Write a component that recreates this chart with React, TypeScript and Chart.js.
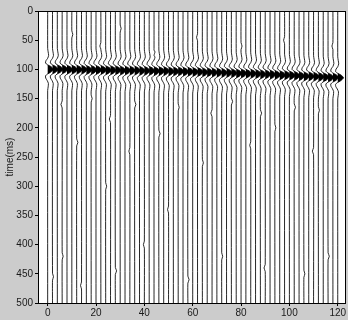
import React, { useEffect, useRef } from "react";
import { Chart, registerables } from "chart.js";

Chart.register(...registerables);

// Trace positions (x axis units)
const TRACE_OFFSETS = [
  0, 2, 4, 6, 8, 10, 12, 14, 16, 18, 20, 22, 24, 26, 28, 30, 32, 34, 36, 38,
  40, 42, 44, 46, 48, 50, 52, 54, 56, 58, 60, 62, 64, 66, 68, 70, 72, 74, 76, 78,
  80, 82, 84, 86, 88, 90, 92, 94, 96, 98, 100, 102, 104, 106, 108, 110, 112, 114, 116, 118,
  120,
];

// Arrival time (ms) of the main event on each trace
const ARRIVAL_MS = [
  100, 100, 100, 100, 100.5, 100.5, 100.5, 100.5, 101, 101,
  101, 101, 101.5, 101.5, 101.5, 102, 102, 102, 102, 102.5,
  102.5, 102.5, 103, 103, 103, 103.5, 103.5, 103.5, 104, 104,
  104.5, 104.5, 105, 105, 105.5, 105.5, 106, 106, 106.5, 107,
  107, 107.5, 107.5, 108, 108.5, 108.5, 109, 109.5, 110, 110,
  110.5, 111, 111.5, 112, 112, 112.5, 113, 113.5, 114, 114,
  114.5,
];

// Wavelet shape: relative time (ms) and deflection (x units)
const WAVELET_T = [-36, -30, -24, -19, -15, -11, -8, -5, -2.5, 0, 2.5, 5, 8, 11, 15, 19, 24, 30, 36];
const WAVELET_A = [0, 0.2, 0.4, 0, -0.7, -0.9, -0.1, 1.3, 2.0, 2.4, 1.9, 1.2, -0.1, -0.9, -0.8, -0.2, 0.3, 0.2, 0];

// Small background wiggles: [trace offset, time ms, deflection]
const KINKS: [number, number, number][] = [
  [2, 455, 0.4], [6, 160, -0.5], [6, 420, 0.4], [10, 40, 0.4], [12, 225, 0.5],
  [14, 470, -0.4], [18, 150, 0.4], [22, 60, -0.4], [24, 300, 0.4], [26, 185, -0.5],
  [28, 445, 0.5], [30, 30, 0.4], [34, 240, -0.4], [36, 160, 0.5], [40, 400, -0.4],
  [44, 70, 0.4], [46, 210, 0.5], [50, 340, -0.4], [54, 165, 0.4], [58, 460, 0.5],
  [62, 45, -0.4], [64, 260, 0.4], [68, 175, -0.5], [72, 420, 0.4], [76, 155, 0.5],
  [80, 60, 0.4], [84, 230, -0.4], [88, 175, 0.5], [90, 440, -0.5], [94, 200, 0.4],
  [98, 50, -0.4], [102, 165, 0.5], [106, 450, 0.4], [110, 240, -0.5], [112, 170, 0.4],
  [116, 420, 0.5], [118, 60, -0.4],
];

const X_TICKS = [0, 20, 40, 60, 80, 100, 120];
const Y_TICKS = [0, 50, 100, 150, 200, 250, 300, 350, 400, 450, 500];
const T_MAX = 500;

function lobeBounds() {
  let peak = 0;
  WAVELET_A.forEach((a, i) => { if (a > WAVELET_A[peak]) peak = i; });
  let l = peak;
  while (l > 0 && WAVELET_A[l - 1] > 0) l--;
  let r = peak;
  while (r < WAVELET_A.length - 1 && WAVELET_A[r + 1] > 0) r++;
  const cross = (i0: number, i1: number) => {
    const a0 = WAVELET_A[i0], a1 = WAVELET_A[i1];
    return WAVELET_T[i0] + (WAVELET_T[i1] - WAVELET_T[i0]) * (a0 / (a0 - a1));
  };
  return { l, r, tl: cross(l - 1, l), tr: cross(r, r + 1) };
}

export default function App() {
  const ref = useRef<HTMLCanvasElement | null>(null);

  useEffect(() => {
    if (!ref.current) return;
    const lb = lobeBounds();
    const datasets: any[] = [];

    TRACE_OFFSETS.forEach((off, i) => {
      const t0 = ARRIVAL_MS[i];
      const pts: { x: number; y: number }[] = [];
      pts.push({ x: off, y: 0 });
      WAVELET_T.forEach((rt, k) => pts.push({ x: off + WAVELET_A[k], y: t0 + rt }));
      KINKS.filter((k) => k[0] === off).forEach(([, t, d]) => {
        pts.push({ x: off, y: t - 6 });
        pts.push({ x: off + d, y: t });
        pts.push({ x: off, y: t + 6 });
      });
      pts.push({ x: off, y: T_MAX });
      pts.sort((a, b) => a.y - b.y);

      const fillPts: { x: number; y: number }[] = [];
      fillPts.push({ x: off, y: t0 + lb.tl });
      for (let k = lb.l; k <= lb.r; k++) fillPts.push({ x: off + WAVELET_A[k], y: t0 + WAVELET_T[k] });
      fillPts.push({ x: off, y: t0 + lb.tr });

      datasets.push({
        data: fillPts,
        showLine: true,
        fill: "shape",
        backgroundColor: "#000",
        borderColor: "#000",
        borderWidth: 0,
        pointRadius: 0,
        tension: 0,
      });
      datasets.push({
        data: pts,
        showLine: true,
        fill: false,
        borderColor: "#000",
        borderWidth: 0.85,
        pointRadius: 0,
        tension: 0.2,
      });
    });

    const font = { family: "'Liberation Sans', Arial, sans-serif", size: 10 };
    const chart = new Chart(ref.current, {
      type: "scatter",
      data: { datasets },
      options: {
        animation: false,
        responsive: false,
        events: [],
        layout: { padding: { top: 11, right: 3, left: 0, bottom: 0 } },
        plugins: { legend: { display: false }, tooltip: { enabled: false } },
        scales: {
          x: {
            type: "linear",
            position: "bottom",
            min: -4,
            max: 123,
            afterBuildTicks: (s: any) => { s.ticks = X_TICKS.map((v) => ({ value: v })); },
            afterFit: (s: any) => { s.height = 17; },
            ticks: { font, color: "#1a1a1a", padding: 1, autoSkip: false, maxRotation: 0 },
            grid: { display: true, drawOnChartArea: false, drawTicks: true, tickLength: 3, color: "#000" },
            border: { display: true, color: "#000", width: 1 },
          },
          x2: {
            type: "linear",
            position: "top",
            min: -4,
            max: 123,
            ticks: { display: false },
            grid: { display: false },
            border: { display: true, color: "#000", width: 1 },
            afterFit: (s: any) => { s.height = 0; },
          },
          y: {
            type: "linear",
            position: "left",
            min: 0,
            max: T_MAX,
            reverse: true,
            afterBuildTicks: (s: any) => { s.ticks = Y_TICKS.map((v) => ({ value: v })); },
            afterFit: (s: any) => { s.width = 38; },
            ticks: { font, color: "#1a1a1a", padding: 2, autoSkip: false },
            grid: { display: true, drawOnChartArea: false, drawTicks: true, tickLength: 3, color: "#000" },
            border: { display: true, color: "#000", width: 1 },
            title: { display: true, text: "time(ms)", font, color: "#1a1a1a", padding: { top: 4, bottom: 0 } },
          },
          y2: {
            type: "linear",
            position: "right",
            min: 0,
            max: T_MAX,
            ticks: { display: false },
            grid: { display: false },
            border: { display: true, color: "#000", width: 1 },
            afterFit: (s: any) => { s.width = 0; },
          },
        },
      },
      plugins: [
        {
          id: "whiteArea",
          beforeDraw: (c: any) => {
            const { ctx, chartArea: a } = c;
            ctx.save();
            ctx.fillStyle = "#ffffff";
            ctx.fillRect(a.left, a.top, a.right - a.left, a.bottom - a.top);
            ctx.restore();
          },
        },
      ],
    } as any);
    return () => chart.destroy();
  }, []);

  return (
    <div style={{ position: "fixed", left: 0, top: 0, width: 348, height: 320, background: "#cccccc" }}>
      <canvas ref={ref} width={348} height={320} style={{ display: "block" }} />
    </div>
  );
}
